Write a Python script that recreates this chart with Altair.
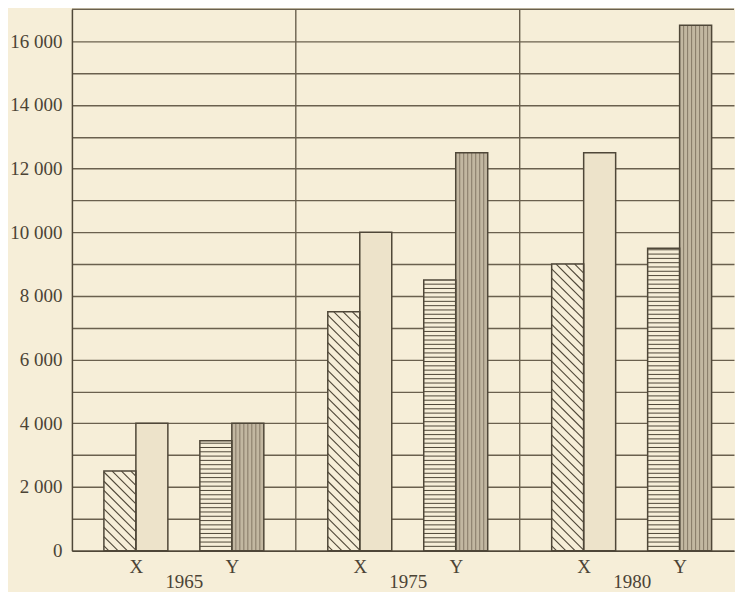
import altair as alt
import pandas as pd

# ---- data ----
years = ["1965", "1975", "1980"]
groups = ["X", "Y"]
x_first = [2500, 7500, 9000]      # X, hatched bar
x_second = [4000, 10000, 12500]   # X, light dotted bar
y_first = [3450, 8500, 9500]      # Y, horizontal-lined bar
y_second = [4000, 12500, 16500]   # Y, dark dotted bar
series_values = [x_first, x_second, y_first, y_second]
Y_MAX = 17000
GRID_STEP = 1000
LABEL_STEP = 2000

# ---- styling ----
BG = "#f6eed8"
TXT = "#4b4335"
GRID = "#6a604e"
OUTLINE = "#4f4738"
FONT = "Liberation Serif"
FILLS = [BG, "#ede3ca", BG, "#c2b7a1"]

SLOTS = 7  # slot units per year panel
rows = []
for yi, yr in enumerate(years):
    for si, vals in enumerate(series_values):
        gi = si // 2
        slot = yi * SLOTS + 1 + gi * 3 + (si % 2)
        rows.append(dict(year=yr, group=groups[gi], series=si,
                         value=vals[yi], x0=slot, x1=slot + 1))
bars = pd.DataFrame(rows)

group_pos = [yi * SLOTS + 2 + gi * 3 for yi in range(len(years)) for gi in range(len(groups))]
group_lab = [g for _ in years for g in groups]
year_pos = [yi * SLOTS + SLOTS / 2 for yi in range(len(years))]
dividers = pd.DataFrame({"d": [yi * SLOTS for yi in range(1, len(years))]})

xs = alt.Scale(domain=[0, 20.7], nice=False, zero=False)
ys = alt.Scale(domain=[0, Y_MAX], nice=False)

def js_list(v):
    return "[" + ",".join(repr(x) if not isinstance(x, str) else "'" + x + "'" for x in v) + "]"

x_axis = alt.Axis(values=group_pos, labelExpr=f"{js_list(group_lab)}[indexof({js_list(group_pos)}, datum.value)]",
                  orient="bottom", grid=False, ticks=False, tickSize=0, domain=True, domainColor=OUTLINE,
                  domainWidth=1.5, labelFont=FONT, labelFontSize=19, labelColor=TXT, labelPadding=7,
                  labelFlush=False, title=None)
year_axis = alt.Axis(values=year_pos, labelExpr=f"{js_list(years)}[indexof({js_list(year_pos)}, datum.value)]",
                     orient="bottom", offset=15, grid=False, ticks=False, tickSize=0, domain=False,
                     labelFont=FONT, labelFontSize=19, labelColor=TXT, labelPadding=7, labelFlush=False,
                     title=None)
y_axis = alt.Axis(values=list(range(0, Y_MAX, GRID_STEP)),
                  labelExpr=f"datum.value % {LABEL_STEP} == 0 ? replace(format(datum.value, ','), ',', ' ') : ''",
                  orient="left", grid=True, gridColor=GRID, gridWidth=1.4, ticks=False, tickSize=0,
                  domain=True, domainColor=OUTLINE, domainWidth=1.5,
                  labelFont=FONT, labelFontSize=19, labelColor=TXT, labelPadding=10,
                  minExtent=64, maxExtent=64, title=None)

base = alt.Chart(bars)

div_layer = alt.Chart(dividers).mark_rule(color=GRID, strokeWidth=1.4).encode(
    x=alt.X("d:Q", scale=xs, axis=year_axis))

top_layer = alt.Chart(dividers).mark_rule(color=GRID, strokeWidth=1.4).encode(
    y=alt.Y(datum=Y_MAX, scale=ys, axis=y_axis))

fill_layer = base.mark_bar(strokeWidth=0).encode(
    x=alt.X("x0:Q", scale=xs, axis=x_axis),
    x2="x1:Q",
    y=alt.Y("value:Q", scale=ys, axis=y_axis),
    y2=alt.Y2(datum=0),
    color=alt.Color("series:N", scale=alt.Scale(domain=[0, 1, 2, 3], range=FILLS), legend=None))

diag_layer = base.transform_filter("datum.series == 0").transform_calculate(
    c="sequence(150, datum.value + 1000, 290)").transform_flatten(["c"]).transform_calculate(
    xa="datum.x0 + max(0, (datum.c - datum.value) / 1000)",
    ya="min(datum.c, datum.value)",
    xb="datum.x0 + min(1, datum.c / 1000)",
    yb="max(0, datum.c - 1000)").mark_rule(color=OUTLINE, strokeWidth=1.1).encode(
    x=alt.X("xa:Q", scale=xs, axis=None), x2="xb:Q",
    y=alt.Y("ya:Q", scale=ys, axis=y_axis), y2="yb:Q")

horiz_layer = base.transform_filter("datum.series == 2").transform_calculate(
    h="sequence(135, datum.value, 135)").transform_flatten(["h"]).mark_rule(
    color=OUTLINE, strokeWidth=1).encode(
    x=alt.X("x0:Q", scale=xs, axis=None), x2="x1:Q",
    y=alt.Y("h:Q", scale=ys, axis=y_axis))

vert_layer = base.transform_filter("datum.series == 3").transform_calculate(
    v="sequence(datum.x0 + 0.125, datum.x1 - 0.05, 0.125)").transform_flatten(["v"]).mark_rule(
    color="#7d725f", strokeWidth=0.9).encode(
    x=alt.X("v:Q", scale=xs, axis=None),
    y=alt.Y("value:Q", scale=ys, axis=y_axis), y2=alt.Y2(datum=0))

outline_layer = base.mark_bar(fillOpacity=0, stroke=OUTLINE, strokeWidth=1.5).encode(
    x=alt.X("x0:Q", scale=xs, axis=None), x2="x1:Q",
    y=alt.Y("value:Q", scale=ys, axis=y_axis), y2=alt.Y2(datum=0))

chart = alt.layer(fill_layer, div_layer, top_layer, diag_layer, horiz_layer, vert_layer,
                  outline_layer).resolve_axis(x="independent").properties(
    width=663, height=542, padding=0, background=BG).configure_view(stroke=None)

chart.save("out.html", embed_options={"renderer": "svg", "actions": False})
